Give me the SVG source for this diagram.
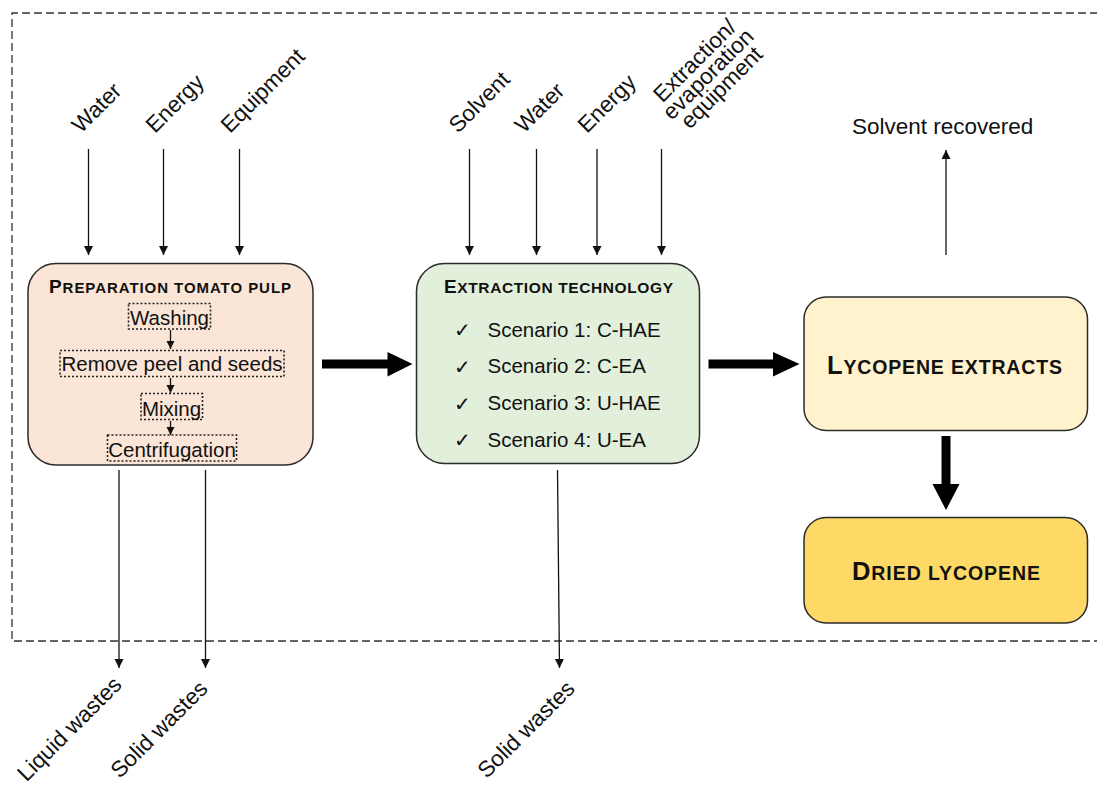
<svg xmlns="http://www.w3.org/2000/svg" width="1097" height="785" viewBox="0 0 1097 785">
<defs>
<style>
text{font-family:"Liberation Sans",Arial,sans-serif;fill:#111}
.lbl{font-size:22.5px}
.in{font-size:20.5px}
.ttl{font-weight:bold}
.chk{font-family:"DejaVu Sans",sans-serif;font-size:20px}
.box{stroke:#2b2b2b;stroke-width:1.5}
.sub{fill:none;stroke:#222;stroke-width:1.6;stroke-dasharray:2 2}
.thin{stroke:#111;stroke-width:1.3;fill:none;marker-end:url(#ah)}
.small{stroke:#111;stroke-width:1.3;fill:none;marker-end:url(#ahs)}
.thick{fill:#000}
</style>
<marker id="ah" markerUnits="userSpaceOnUse" markerWidth="10" markerHeight="10" refX="9" refY="4.5" orient="auto">
<path d="M0,0 L9,4.5 L0,9 Z" fill="#111"/>
</marker>
<marker id="ahs" markerUnits="userSpaceOnUse" markerWidth="10" markerHeight="10" refX="8" refY="4" orient="auto">
<path d="M0,0 L8,4 L0,8 Z" fill="#111"/>
</marker>
</defs>
<rect width="1097" height="785" fill="#fff"/>
<path id="boundary" d="M1110,13 H12 V641 H1110" fill="none" stroke="#333" stroke-width="1.3" stroke-dasharray="8 4"/>

<g id="connectors">
<line class="thin" x1="88.5" y1="149" x2="88.5" y2="255"/>
<line class="thin" x1="163.5" y1="149" x2="163.5" y2="255"/>
<line class="thin" x1="239.5" y1="149" x2="239.5" y2="255"/>
<line class="thin" x1="469.5" y1="149" x2="469.5" y2="255"/>
<line class="thin" x1="536.5" y1="149" x2="536.5" y2="255"/>
<line class="thin" x1="597" y1="149" x2="597" y2="255"/>
<line class="thin" x1="661.5" y1="149" x2="661.5" y2="255"/>
<line class="thin" x1="946" y1="255" x2="946" y2="150"/>
<line class="thin" x1="119" y1="470" x2="119" y2="668"/>
<line class="thin" x1="205.5" y1="470" x2="205.5" y2="668"/>
<line class="thin" x1="557.5" y1="470" x2="559.5" y2="668"/>
<path class="thick" d="M322,359.5 H387.5 V352 L412.5,364 L387.5,376.5 V368.5 H322 Z"/>
<path class="thick" d="M708.5,359.5 H773 V352 L799.5,364 L773,376.5 V368.5 H708.5 Z"/>
<path class="thick" d="M941.5,436 H950.5 V484 H959.5 L946,510 L932.5,484 H941.5 Z"/>
</g>

<g id="labels">
<text class="lbl" transform="translate(81,134) rotate(-45)">Water</text>
<text class="lbl" transform="translate(155,134) rotate(-45)">Energy</text>
<text class="lbl" transform="translate(230,134) rotate(-45)">Equipment</text>
<text class="lbl" transform="translate(458,134) rotate(-45)">Solvent</text>
<text class="lbl" transform="translate(524,134) rotate(-45)">Water</text>
<text class="lbl" transform="translate(587,134) rotate(-45)">Energy</text>
<text class="lbl" text-anchor="middle" transform="translate(700,66) rotate(-45)"><tspan x="0" y="0">Extraction/</tspan><tspan x="0" y="19">evaporation</tspan><tspan x="0" y="38">equipment</tspan></text>
<text class="lbl" x="852" y="134">Solvent recovered</text>
<text class="lbl" text-anchor="end" transform="translate(123,686) rotate(-45)">Liquid wastes</text>
<text class="lbl" text-anchor="end" transform="translate(209,690) rotate(-45)">Solid wastes</text>
<text class="lbl" text-anchor="end" transform="translate(576,690) rotate(-45)">Solid wastes</text>
</g>

<g id="prep">
<rect class="box" x="28" y="263.5" width="285" height="201.5" rx="28" fill="#fbe5d6"/>
<text class="ttl" x="49" y="293" textLength="242" lengthAdjust="spacing"><tspan font-size="19">P</tspan><tspan font-size="15">REPARATION TOMATO PULP</tspan></text>
<rect class="sub" x="128.5" y="303.5" width="82" height="25.5"/>
<text class="in" x="169.5" y="325" text-anchor="middle">Washing</text>
<rect class="sub" x="60" y="350.5" width="224" height="26"/>
<text class="in" x="172" y="371" text-anchor="middle">Remove peel and seeds</text>
<rect class="sub" x="141" y="393.5" width="61.5" height="26"/>
<text class="in" x="171.5" y="416" text-anchor="middle">Mixing</text>
<rect class="sub" x="107.5" y="435" width="129" height="26"/>
<text class="in" x="172" y="456.5" text-anchor="middle">Centrifugation</text>
<line class="small" x1="170.5" y1="330" x2="170.5" y2="349"/>
<line class="small" x1="170.5" y1="378" x2="170.5" y2="393"/>
<line class="small" x1="170.5" y1="421" x2="170.5" y2="435"/>
</g>

<g id="extraction">
<rect class="box" x="416.5" y="263.5" width="283" height="200" rx="28" fill="#e2efda"/>
<text class="ttl" x="444" y="293" textLength="229" lengthAdjust="spacing"><tspan font-size="19">E</tspan><tspan font-size="15.5">XTRACTION TECHNOLOGY</tspan></text>
<text class="chk" x="454" y="337">✓</text>
<text class="chk" x="454" y="374">✓</text>
<text class="chk" x="454" y="411">✓</text>
<text class="chk" x="454" y="447">✓</text>
<text class="in" x="487.5" y="336.5">Scenario 1: C-HAE</text>
<text class="in" x="487.5" y="373">Scenario 2: C-EA</text>
<text class="in" x="487.5" y="410">Scenario 3: U-HAE</text>
<text class="in" x="487.5" y="446.5">Scenario 4: U-EA</text>
</g>

<g id="extracts">
<rect class="box" x="804" y="297" width="283.5" height="133.5" rx="22" fill="#fff2cc"/>
<text class="ttl" x="827" y="374" textLength="235" lengthAdjust="spacing"><tspan font-size="25.5">L</tspan><tspan font-size="19.5">YCOPENE EXTRACTS</tspan></text>
</g>

<g id="dried">
<rect class="box" x="804" y="517.5" width="283.5" height="105.5" rx="22" fill="#ffd966"/>
<text class="ttl" x="852" y="580" textLength="188" lengthAdjust="spacing"><tspan font-size="25.5">D</tspan><tspan font-size="19.5">RIED LYCOPENE</tspan></text>
</g>
</svg>
